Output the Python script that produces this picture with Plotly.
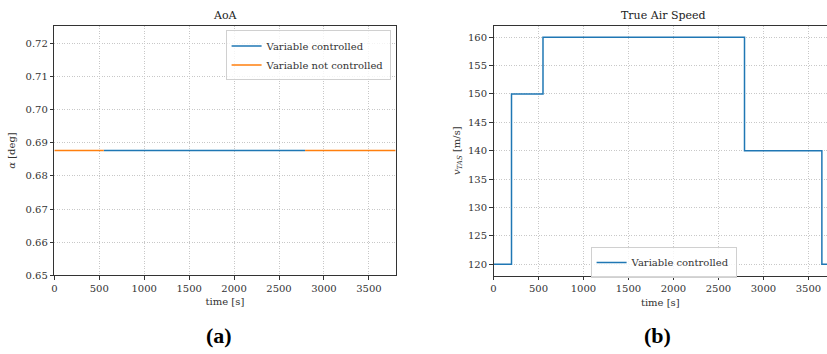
import plotly.graph_objects as go

# ---- data ----
aoa_time_ctrl = [550, 2790]
aoa_ctrl = [0.6877, 0.6877]
aoa_time_free = [0, 550, None, 2790, 3800]
aoa_free = [0.6877, 0.6877, None, 0.6877, 0.6877]

tas_time = [0, 200, 550, 2790, 3650, 3800]
tas_value = [120, 150, 160, 140, 120, 120]

aoa_ticks = [0.65, 0.66, 0.67, 0.68, 0.69, 0.70, 0.71, 0.72]
tas_ticks = [120, 125, 130, 135, 140, 145, 150, 155, 160]
time_ticks = [0, 500, 1000, 1500, 2000, 2500, 3000, 3500]

BLUE = "#1f77b4"
ORANGE = "#ff7f0e"
FONT = "'DejaVu Serif', 'Liberation Serif', serif"

fig = go.Figure()
fig.add_trace(go.Scatter(x=aoa_time_ctrl, y=aoa_ctrl, mode="lines", name="Variable controlled",
                         line=dict(color=BLUE, width=1.5), xaxis="x", yaxis="y", legend="legend"))
fig.add_trace(go.Scatter(x=aoa_time_free, y=aoa_free, mode="lines", name="Variable not controlled",
                         line=dict(color=ORANGE, width=1.5), xaxis="x", yaxis="y", legend="legend",
                         connectgaps=False))
fig.add_trace(go.Scatter(x=tas_time, y=tas_value, mode="lines", name="Variable controlled",
                         line=dict(color=BLUE, width=1.5, shape="hv"), xaxis="x2", yaxis="y2",
                         legend="legend2"))

W, H = 827, 354
def fx(px): return px / W
def fy(py): return 1 - py / H

axis_common = dict(
    showline=True, linecolor="#333", linewidth=1,
    ticks="outside", ticklen=3.5, tickwidth=0.8, tickcolor="#333",
    showgrid=True, gridcolor="#c8c8c8", griddash="1px,1.5px", gridwidth=0.8,
    zeroline=False, tickfont=dict(family=FONT, size=10, color="#333"),
)

fig.update_layout(
    width=W, height=H, margin=dict(l=0, r=0, t=0, b=0),
    paper_bgcolor="white", plot_bgcolor="white",
    font=dict(family=FONT, size=10, color="#333"),
    xaxis=dict(axis_common, domain=[fx(51.5), fx(394)], range=[0, 3797], tickvals=time_ticks,
               mirror=True, anchor="y",
               title=dict(text="time [s]", standoff=5, font=dict(family=FONT, size=10))),
    yaxis=dict(axis_common, domain=[fy(280), fy(26.3)], range=[0.65, 0.7253], tickvals=aoa_ticks,
               tickformat=".2f", mirror=True, anchor="x",
               title=dict(text="<i>α</i> [deg]", standoff=8, font=dict(family=FONT, size=10))),
    xaxis2=dict(axis_common, domain=[fx(492.3), 1.0], range=[0, 3707], tickvals=time_ticks,
                mirror=True, anchor="y2",
                title=dict(text="time [s]", standoff=5, font=dict(family=FONT, size=10))),
    yaxis2=dict(axis_common, domain=[fy(280.3), fy(26.3)], range=[118, 162], tickvals=tas_ticks,
                mirror=False, anchor="x2",
                title=dict(text="<i>v</i><sub><i>TAS</i></sub> [m/s]", standoff=5,
                           font=dict(family=FONT, size=10))),
    legend=dict(x=fx(389), y=fy(31), xanchor="right", yanchor="top",
                bgcolor="rgba(255,255,255,0.8)", bordercolor="#d0d0d0", borderwidth=1,
                font=dict(family=FONT, size=10), tracegroupgap=0, itemwidth=30),
    legend2=dict(x=fx(663), y=fy(267), xanchor="center", yanchor="middle",
                 bgcolor="rgba(255,255,255,0.8)", bordercolor="#d0d0d0", borderwidth=1,
                 font=dict(family=FONT, size=10), itemwidth=30),
    showlegend=True,
    annotations=[
        dict(text="AoA", x=fx(223), y=fy(15.7), xref="paper", yref="paper", showarrow=False,
             font=dict(family=FONT, size=11, color="#222"), xanchor="center", yanchor="middle"),
        dict(text="True Air Speed", x=fx(662.7), y=fy(15.7), xref="paper", yref="paper",
             showarrow=False, font=dict(family=FONT, size=11, color="#222"),
             xanchor="center", yanchor="middle"),
        dict(text="<b>(a)</b>", x=fx(217), y=fy(341), xref="paper", yref="paper", showarrow=False,
             font=dict(family="Liberation Serif", size=22, color="#000"),
             xanchor="center", yanchor="middle"),
        dict(text="<b>(b)</b>", x=fx(657), y=fy(341), xref="paper", yref="paper", showarrow=False,
             font=dict(family="Liberation Serif", size=22, color="#000"),
             xanchor="center", yanchor="middle"),
    ],
)

fig.write_html("out.html")
